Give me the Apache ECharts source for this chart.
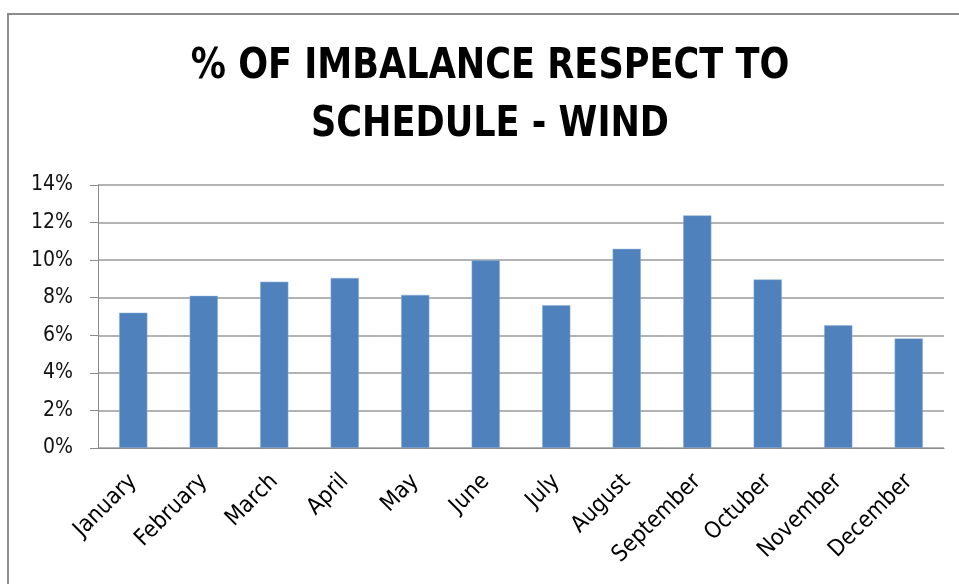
<!DOCTYPE html>
<html>
<head>
<meta charset="utf-8">
<script src="https://cdn.jsdelivr.net/npm/echarts@6/dist/echarts.min.js"></script>
<style>
  html, body { margin: 0; padding: 0; background: #fff; }
  #chart { width: 959px; height: 584px; }
</style>
</head>
<body>
<div id="chart"></div>
<script>
// months and imbalance values (% of schedule)
var months = ['January', 'February', 'March', 'April', 'May', 'June',
  'July', 'August', 'September', 'Octuber', 'November', 'December'];
var imbalance = [7.2, 8.1, 8.85, 9.05, 8.15, 10.0, 7.6, 10.6, 12.38, 8.97, 6.53, 5.83];
var titleLines = ['% OF IMBALANCE RESPECT TO', 'SCHEDULE - WIND'];

var chart = echarts.init(document.getElementById('chart'));

var font = '"DejaVu Sans Condensed", "DejaVu Sans", sans-serif';

// title drawn as graphic text so it can be squeezed like the narrow original font
var titleStyle = function (text) {
  return {
    text: text,
    fill: '#000',
    font: 'bold 42px ' + font,
    textAlign: 'center',
    textVerticalAlign: 'middle'
  };
};

var option = {
  animation: false,
  graphic: [{
    type: 'rect',
    shape: { x: 8, y: 14, width: 1000, height: 1000 },
    style: { fill: 'none', stroke: '#8c8c8c', lineWidth: 2 },
    silent: true
  }, {
    type: 'text',
    x: 490, y: 67,
    scaleX: 0.93,
    style: titleStyle(titleLines[0]),
    silent: true
  }, {
    type: 'text',
    x: 490, y: 125,
    scaleX: 0.93,
    style: titleStyle(titleLines[1]),
    silent: true
  }],
  grid: { left: 98, right: 15, top: 185, bottom: 136 },
  xAxis: {
    type: 'category',
    data: months,
    axisLine: { lineStyle: { color: '#8c8c8c', width: 1 } },
    axisTick: { length: 7, lineStyle: { color: '#8c8c8c' } },
    axisLabel: {
      rotate: 45,
      margin: 30,
      interval: 0,
      fontFamily: font,
      fontSize: 23,
      color: '#000'
    }
  },
  yAxis: {
    type: 'value',
    min: 0,
    max: 14,
    interval: 2,
    axisLine: { show: true, lineStyle: { color: '#8c8c8c' } },
    axisTick: { show: true, length: 8, lineStyle: { color: '#8c8c8c' } },
    splitLine: { lineStyle: { color: '#9a9a9a', width: 1.5 } },
    axisLabel: {
      formatter: '{value}%',
      margin: 25,
      fontFamily: font,
      fontSize: 21,
      color: '#111'
    }
  },
  series: [{
    type: 'bar',
    data: imbalance,
    barWidth: '40%',
    itemStyle: { color: '#4f81bd', borderColor: '#8fb0d8', borderWidth: 0.5 }
  }]
};

chart.setOption(option);
</script>
</body>
</html>
